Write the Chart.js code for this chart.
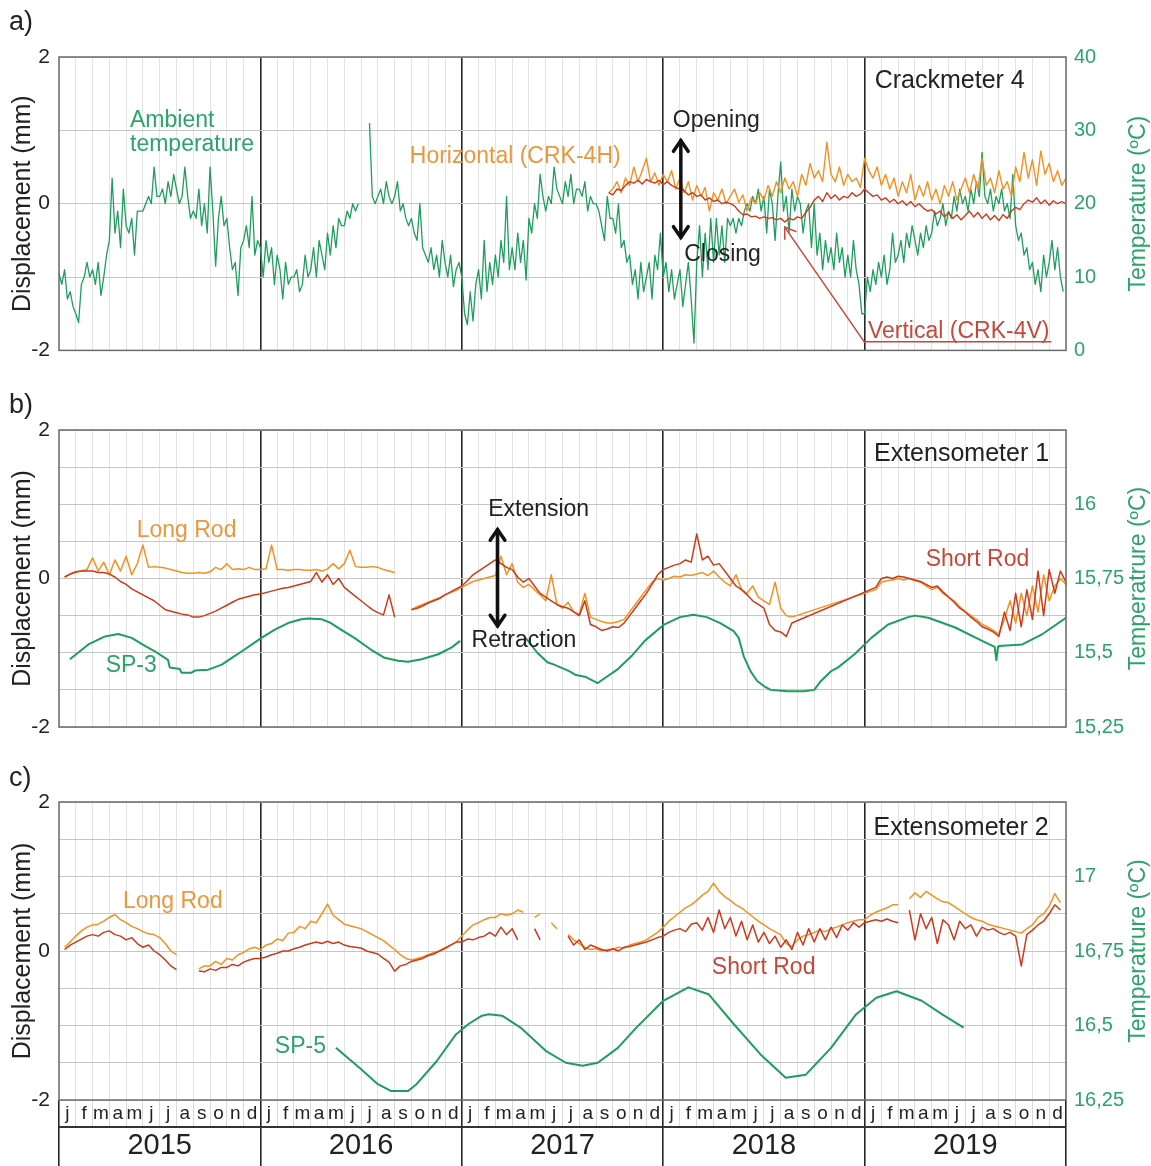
<!DOCTYPE html>
<html lang="en">
<head>
<meta charset="UTF-8">
<title>Crackmeter 4, Extensometer 1 and 2 (2015-2019)</title>
<script src="https://cdn.jsdelivr.net/npm/chart.js@4"></script>
<style>
  body { margin: 0; background: #fff; font-family: 'Liberation Sans', Arial, sans-serif; }
  #page { position: relative; width: 1151px; height: 1166px; overflow: hidden; }
  .panel { position: absolute; left: 0; }
  .tag { position: absolute; left: 9px; font-size: 27px; line-height: 1; color: #222; }
</style>
</head>
<body>
<div id="page">
  <canvas id="chartA" class="panel" style="top:0" width="1151" height="372"></canvas>
  <canvas id="chartB" class="panel" style="top:372px" width="1151" height="378"></canvas>
  <canvas id="chartC" class="panel" style="top:750px" width="1151" height="416"></canvas>
  <div class="tag" style="top:8px">a)</div>
  <div class="tag" style="top:391px">b)</div>
  <div class="tag" style="top:764px">c)</div>
</div>

<script>
// x is counted in months from 1 January 2015 (0) to 31 December 2019 (60)

// tick labels
const monthLetters = ['j', 'f', 'm', 'a', 'm', 'j', 'j', 'a', 's', 'o', 'n', 'd'];
const yearLabels = ['2015', '2016', '2017', '2018', '2019'];

// a) ambient temperature (ºC), six readings per month
const amb2015 = [
  10.5, 9, 11, 7, 8, 6,   5, 3.8, 9, 10, 12, 10,   11, 9, 12, 7.5, 10, 13,
  15, 23.5, 16, 19, 14, 22,   17, 16, 18, 13, 19, 19,   19, 20, 21, 20, 25, 21,
  21, 22, 20, 23, 21, 24,   22, 20, 21, 25, 21, 18,   19, 18, 22, 17, 20, 16,
  25, 19, 11.5, 18, 21, 17,   18, 14, 11, 12, 7.5, 14,   15, 17, 14, 21, 13, 15
];
const amb2016 = [
  14, 10, 15, 12, 14, 9,   13, 11, 7, 12, 9, 10,   10, 11, 8, 9, 13, 10,
  11, 14, 10, 15, 13, 11,   16, 13, 17, 14, 18, 17,   17, 19, 18, 20, 19, 20,
  null, null, null, 31, 21, 20,   21, 22, 20, 23, 21, 20,   21, 23, 19, 20, 18, 17,
  18, 16, 15, 20, 14, 13,   12, 14, 11, 13, 10, 15,   12, 10, 13, 8.7, 11, 12
];
const amb2017 = [
  10, 5, 3.5, 8, 4, 9,   11, 7, 15, 8, 12, 9,   13, 10, 15, 12, 21, 11,
  14, 11, 16, 12, 15, 9.6,   18, 16, 20, 18, 24, 21,   19, 21, 20, 25, 22, 21,
  20, 23, 21, 24, 20, 22,   22, 21, 23, 19, 21, 20,   20, 19, 17, 15, 21, 18,
  18, 16, 20, 14, 15, 12,   13, 9, 11, 7, 12, 8,   10, 12, 7, 13, 11, 16
];
const amb2018 = [
  10, 12, 8, 11, 7, 9,   11, 6, 9, 12, 7, 1,   12, 17, 10, 16, 11, 18,
  12, 18, 13, 17, 12, 18,   17, 18, 16, 18, 17, 19,   20, 19, 21, 20, 22, 19,
  21, 16, 22, 20, 15, 21,   25.7, 19, 21, 16, 22, 19,   21, 20, 16, 19, 20, 14,
  20, 13, 16, 11, 15, 12,   14, 11, 16, 12, 14, 10,   13, 10, 15, 11, 9, 5
];
const amb2019 = [
  5, 10, 8, 11, 9, 12,   10, 13, 9, 11, 16, 12,   13, 15, 12, 16, 14, 17,
  15, 13, 16, 14, 17, 15,   16, 19, 17, 18, 20, 17,   19, 18, 21, 19, 22, 20,
  21, 19, 22, 20, 23, 21,   27, 21, 20, 22, 19, 21,   20, 22, 19, 20, 18, 24,
  17, 15, 16, 13, 14, 11,   12, 9, 11, 8, 13, 10,   12, 15, 11, 14, 10, 8
];

// a) crackmeter displacement (mm), weekly from month 32.75
const crkH = [
  0.15,
  0.2, 0.3, 0.15, 0.35,   0.25, 0.5, 0.3, 0.45,   0.62, 0.3, 0.42, 0.25,
  0.4, 0.3, 0.45, 0.2,   0.35, 0.15, 0.3, 0.05,   0.25, 0.1, 0.22, -0.1,
  0.15, 0.05, 0.2, 0.0,   0.1, 0.2, 0.02, 0.12,   -0.1, 0.08, 0.0, 0.15,
  0.05, 0.25, 0.1, 0.3,   0.15, 0.35, 0.2, 0.3,   0.1, 0.4, 0.25, 0.55,
  0.35, 0.45, 0.3, 0.84,   0.4, 0.3, 0.5, 0.25,   0.4, 0.3, 0.35, 0.22,
  0.62, 0.45, 0.35, 0.5,   0.25, 0.4, 0.2, 0.35,   0.1, 0.3, 0.15, 0.4,
  0.05, 0.25, 0.1, 0.3,   0.05, 0.2, 0.0, 0.25,   0.1, 0.3, 0.05, 0.2,
  0.35, 0.15, 0.4, 0.2,   0.62, 0.25, 0.35, 0.15,   0.45, 0.2, 0.3, 0.1,
  0.5, 0.3, 0.7, 0.35,   0.6, 0.25, 0.72, 0.4,   0.55, 0.3, 0.45, 0.25,
  0.35
];
const crkV = [
  0.15,
  0.12, 0.2, 0.18, 0.25,   0.3, 0.28, 0.32, 0.27,   0.33, 0.3, 0.28, 0.32,
  0.26, 0.3, 0.25, 0.22,   0.2, 0.18, 0.12, 0.15,   0.1, 0.12, 0.05, 0.08,
  0.03, 0.05, 0.0, 0.02,   0.0, -0.03, -0.1, -0.15,   -0.14, -0.18, -0.17, -0.2,
  -0.18, -0.2, -0.19, -0.22,   -0.2, -0.25, -0.2, -0.22,   -0.18, -0.2, -0.12, -0.05,
  0.05, 0.1, 0.03, 0.15,   0.07, 0.12, 0.05, 0.1,   0.08, 0.15, 0.1, 0.13,
  0.2, 0.15, 0.1, 0.12,   0.05, 0.08, 0.02, 0.06,   0.0, 0.04, -0.02, 0.03,
  -0.04, 0.0, -0.06, -0.1,   -0.08, -0.14, -0.1, -0.18,   -0.12, -0.2, -0.15, -0.22,
  -0.16, -0.1, -0.18, -0.12,   -0.2, -0.14, -0.22, -0.16,   -0.23, -0.15, -0.2, -0.1,
  -0.05, -0.08, 0.0, 0.05,   0.02, 0.08, 0.0, 0.05,   -0.02, 0.04, 0.0, 0.03,
  0.0
];

// b) extensometer 1 (mm), three readings per month, Jan 2015 - Aug 2018
const ext1Long1518 = [
  null, 0.02, 0.06,   0.08, 0.1, 0.12,   0.28, 0.1, 0.22,   0.05, 0.25, 0.1,
  0.3, 0.05, 0.2,   0.45, 0.15, 0.16,   0.15, 0.14, 0.12,   0.1, 0.08, 0.07,
  0.07, 0.08, 0.07,   0.09, 0.15, 0.12,   0.2, 0.12, 0.13,   0.12, 0.15, 0.12,
  0.12, 0.13, 0.45,   0.12, 0.12, 0.11,   0.12, 0.12, 0.11,   0.11, 0.12, 0.1,
  0.13, 0.2, 0.13,   0.2, 0.38, 0.16,   0.15, 0.15, 0.16,   0.15, 0.12, 0.1,
  0.08, null, null,   -0.42, -0.38, -0.35,   -0.32, -0.29, -0.26,   -0.22, -0.19, -0.16,
  -0.12, -0.08, -0.04,   -0.02, 0.0, 0.02,   0.04, 0.3, 0.05,   0.2, -0.05, -0.12,
  -0.08, -0.15, -0.22,   -0.3, 0.05, -0.35,   -0.4, -0.32, -0.45,   -0.48, -0.2, -0.52,
  -0.55, -0.58, -0.6,   -0.6, -0.58, -0.55,   -0.45, -0.35, -0.25,   -0.15, -0.05, 0.0,
  -0.02, 0.0, 0.03,   0.02, 0.05, 0.04,   0.06, 0.08, 0.04,   0.1, 0.02, -0.05,
  -0.1, 0.05, -0.15,   -0.2, -0.1, -0.25,   -0.3, -0.35, -0.05,   -0.4, -0.5, -0.52
];
const ext1Short1518 = [
  null, 0.02, 0.06,   0.09, 0.1, 0.1,   0.1, 0.08, 0.08,   0.06, 0.02, -0.04,
  -0.08, -0.14, -0.18,   -0.22, -0.26, -0.3,   -0.36, -0.42, -0.44,   -0.46, -0.48, -0.49,
  -0.52, -0.52, -0.5,   -0.47, -0.44, -0.4,   -0.36, -0.32, -0.28,   -0.26, -0.24, -0.22,
  -0.21, -0.19, -0.17,   -0.15, -0.13, -0.12,   -0.1, -0.08, -0.06,   -0.04, 0.08, -0.05,
  0.05, -0.08, 0.0,   -0.12, -0.18, -0.24,   -0.3, -0.36, -0.42,   -0.46, -0.49, -0.22,
  -0.52, null, null,   -0.42, -0.4, -0.37,   -0.33, -0.3, -0.27,   -0.22, -0.18, -0.14,
  -0.1, -0.03, 0.05,   0.1, 0.15, 0.2,   0.25, 0.2, 0.15,   0.12, 0.02, -0.05,
  0.0, -0.1, -0.2,   -0.25, -0.3, -0.35,   -0.38, -0.4, -0.45,   -0.5, -0.3, -0.62,
  -0.65, -0.7, -0.68,   -0.65, -0.66, -0.6,   -0.5, -0.4, -0.3,   -0.2, -0.08, 0.05,
  0.12, 0.15, 0.18,   0.2, 0.25, 0.22,   0.6, 0.25, 0.3,   0.18, 0.2, 0.1,
  0.0, -0.1, -0.15,   -0.22, -0.3, -0.35,   -0.4, -0.62, -0.7,   -0.72, -0.78, -0.6
];
// b) extensometer 1, from month 48.67 to the end of 2019
const ext1Long19 = [
  -0.15, -0.05, -0.03, -0.02, 0.0, -0.02, 0.0, -0.03, -0.05, -0.1, -0.15, -0.12,
  -0.2, -0.25, -0.3, -0.38, -0.45, -0.5, -0.55, -0.62, -0.65, -0.7, -0.75, -0.55,
  -0.3, -0.6, -0.2, -0.5, -0.1, -0.45, 0.05, -0.3, -0.1, 0.0, -0.08
];
const ext1Short19 = [
  -0.12, 0.0, 0.02, 0.0, 0.03, 0.02, 0.0, -0.02, -0.04, -0.08, -0.12, -0.1,
  -0.18, -0.25, -0.32, -0.4, -0.45, -0.52, -0.58, -0.65, -0.68, -0.72, -0.78, -0.45,
  -0.7, -0.2, -0.65, -0.15, -0.55, 0.1, -0.5, 0.12, -0.2, 0.1, -0.05
];

// b) SP-3 temperature (ºC)
const sp3Months = [
  0.65, 1.75, 2.74, 3.53, 4.33, 5.12, 5.71, 6.31, 6.5, 6.6, 7.2, 7.3, 7.9, 8.1, 8.9,
  9.7, 10.3, 10.9, 11.5, 12.06, 12.86, 13.65, 14.44, 14.84, 15.63, 16.2, 16.8, 17.6,
  18.6, 19.4, 20.2, 20.8, 21.6, 22.6, 23.4, 23.9, 25,
  27.8, 28.5, 29.1, 29.5, 30.4, 30.8, 31.4, 32.1, 32.4, 33.3, 34.1, 34.9, 36.05, 37.0,
  37.8, 38.6, 39.4, 40.2, 40.5, 40.8, 41.2, 41.6, 42.0, 42.4, 43.4, 44.4, 45.0, 45.4,
  46.0, 46.4, 47.4, 48.4, 49.4, 50.6, 51.0, 51.8, 53.4, 55.0, 55.75, 55.85, 55.95,
  56.0, 57.4, 58.6, 60
];
const sp3Temp = [
  15.478, 15.528, 15.555, 15.563, 15.55, 15.523, 15.505, 15.483, 15.475, 15.45, 15.445, 15.433, 15.433, 15.44, 15.443,
  15.46, 15.483, 15.505, 15.528, 15.55, 15.578, 15.6, 15.613, 15.615, 15.613, 15.6, 15.578, 15.55,
  15.51, 15.483, 15.473, 15.47, 15.478, 15.495, 15.518, 15.54, null,
  15.55, 15.5, 15.468, 15.46, 15.438, 15.425, 15.418, 15.398, 15.41, 15.445, 15.488, 15.54, 15.595, 15.62,
  15.628, 15.62, 15.6, 15.573, 15.55, 15.488, 15.438, 15.405, 15.388, 15.375, 15.37, 15.37, 15.375, 15.405,
  15.438, 15.45, 15.495, 15.55, 15.595, 15.62, 15.625, 15.618, 15.585, 15.54, 15.52, 15.475, 15.52,
  15.523, 15.528, 15.563, 15.618
];

// c) extensometer 2 (mm), three readings per month, Jan 2015 - Dec 2019
const ext2Long = [
  null, 0.05, 0.12,   0.2, 0.27, 0.32,   0.35, 0.36, 0.4,   0.45, 0.49, 0.42,
  0.38, 0.33, 0.3,   0.26, 0.23, 0.22,   0.18, 0.1, 0.0,   -0.05, null, null,
  null, -0.24, -0.2,   -0.2, -0.14, -0.18,   -0.1, -0.12, -0.05,   -0.02, 0.03, 0.05,
  0.02, 0.08, 0.1,   0.16, 0.14, 0.24,   0.25, 0.33, 0.3,   0.4, 0.38, 0.5,
  0.63, 0.48, 0.42,   0.36, 0.34, 0.32,   0.3, 0.26, 0.22,   0.18, 0.14, 0.08,
  0.02, -0.05, -0.1,   -0.12, -0.1, -0.08,   -0.05, -0.02, 0.0,   0.03, 0.08, 0.12,
  0.2, 0.28, 0.35,   0.38, 0.42, 0.45,   0.45, 0.5, 0.48,   0.5, 0.55, 0.52,
  null, 0.45, 0.5,   null, 0.38, 0.3,   null, 0.22, 0.15,   0.1, 0.05, 0.02,
  0.03, 0.0, 0.02,   0.02, 0.05, 0.04,   0.08, 0.1, 0.12,   0.15, 0.2, 0.25,
  0.32, 0.4, 0.46,   0.52, 0.58, 0.62,   0.68, 0.75, 0.8,   0.91, 0.8, 0.73,
  0.68, 0.62, 0.58,   0.52, 0.46, 0.4,   0.35, 0.3, 0.26,   0.22, 0.1, 0.06,
  0.15, 0.2, 0.22,   0.25, 0.28, 0.26,   0.3, 0.32, 0.35,   0.38, 0.4, 0.42,
  0.42, 0.48, 0.52,   0.55, 0.58, 0.62,   0.62, null, 0.7,   0.78, 0.72, 0.8,
  0.75, 0.7, 0.66,   0.65, 0.6, 0.55,   0.5, 0.45, 0.42,   0.4, 0.36, 0.34,
  0.32, 0.3, 0.28,   0.26, 0.24, 0.3,   0.35, 0.45, 0.5,   0.6, 0.77, 0.65
];
const ext2Short = [
  null, 0.02, 0.08,   0.12, 0.16, 0.2,   0.22, 0.2, 0.25,   0.27, 0.22, 0.2,
  0.15, 0.18, 0.1,   0.05, 0.08, 0.0,   -0.05, -0.12, -0.2,   -0.25, null, null,
  null, -0.27, -0.28,   -0.24, -0.26, -0.22,   -0.22, -0.18, -0.2,   -0.15, -0.12, -0.1,
  -0.1, -0.08, -0.05,   -0.03, 0.0, 0.0,   0.03, 0.05, 0.08,   0.1, 0.12, 0.1,
  0.13, 0.1, 0.12,   0.08, 0.06, 0.05,   0.04, 0.0, -0.02,   -0.04, -0.1, -0.15,
  -0.27, -0.2, -0.18,   -0.14, -0.12, -0.1,   -0.06, -0.04, 0.0,   0.04, 0.08, 0.12,
  0.12, 0.16, 0.15,   0.18, 0.2, 0.25,   0.2, 0.32, 0.22,   0.3, 0.15, null,
  null, 0.3, 0.15,   null, null, null,   null, 0.2, 0.08,   0.15, 0.02, 0.08,
  0.05, 0.02, 0.0,   0.03, 0.0, 0.05,   0.06, 0.08, 0.1,   0.12, 0.15, 0.18,
  0.2, 0.25, 0.28,   0.3, 0.26, 0.36,   0.38, 0.28, 0.45,   0.25, 0.55, 0.3,
  0.45, 0.2, 0.4,   0.15, 0.35, 0.12,   0.25, 0.1, 0.2,   0.05, 0.15, 0.02,
  0.25, 0.08, 0.3,   0.12, 0.3, 0.15,   0.32, 0.18, 0.35,   0.28, 0.38, 0.32,
  0.38, 0.4, 0.42,   0.4, 0.43, 0.4,   0.38, null, 0.55,   0.15, 0.5, 0.3,
  0.45, 0.1, 0.42,   0.35, 0.15, 0.4,   0.3, 0.35, 0.2,   0.32, 0.28, 0.3,
  0.25, 0.22, 0.25,   0.2, -0.2, 0.22,   0.28, 0.35, 0.4,   0.5, 0.62, 0.55
];

// c) SP-5 temperature (ºC)
const sp5Months = [
  16.5, 17.9, 19.0, 19.8, 20.8, 21.3, 22.5, 23.65, 24.4, 25.2, 25.6, 26.4, 27.5, 29.0,
  30.2, 31.2, 32.1, 33.3, 34.4, 36.0, 37.5, 38.7, 40.2, 41.8, 43.3, 44.5, 46.0, 47.5,
  48.7, 49.9, 51.4, 52.6, 53.9
];
const sp5Temp = [
  16.425, 16.358, 16.303, 16.28, 16.28, 16.303, 16.38, 16.47, 16.505, 16.533, 16.538, 16.533, 16.493, 16.415,
  16.375, 16.365, 16.375, 16.425, 16.493, 16.583, 16.628, 16.605, 16.505, 16.403, 16.325, 16.335, 16.425, 16.538,
  16.593, 16.615, 16.583, 16.538, 16.493
];

const FONT = "'Liberation Sans', Arial, Helvetica, sans-serif";
const INK = '#222222';
const GREEN = '#1f9d5e';
const GREEN_TXT = '#2ca36c';
const ORANGE = '#f39120';
const ORANGE_TXT = '#e8983e';
const RED = '#cc3a1c';
const RED_TXT = '#c4493a';

function series(start, step, values) {
  return values.map((v, i) => ({ x: start + i * step, y: v }));
}
function pairs(months, values) {
  return months.map((m, i) => ({ x: m, y: values[i] }));
}
function isYearLine(v) {
  return v > 0 && v < 60 && v % 12 === 0;
}

function drawArrow(ctx, x1, y1, x2, y2, a) {
  ctx.strokeStyle = a.color;
  ctx.lineWidth = a.width;
  ctx.lineCap = 'round';
  ctx.beginPath();
  ctx.moveTo(x1, y1);
  ctx.lineTo(x2, y2);
  ctx.stroke();
  const ang = Math.atan2(y2 - y1, x2 - x1);
  const heads = a.both ? [[x2, y2, ang], [x1, y1, ang + Math.PI]] : [[x2, y2, ang]];
  heads.forEach(([hx, hy, an]) => {
    ctx.beginPath();
    ctx.moveTo(hx - a.head * Math.cos(an - 0.6), hy - a.head * Math.sin(an - 0.6));
    ctx.lineTo(hx, hy);
    ctx.lineTo(hx - a.head * Math.cos(an + 0.6), hy - a.head * Math.sin(an + 0.6));
    ctx.stroke();
  });
}

// frame, in-plot labels, arrows and the right-hand axis title
const notesPlugin = {
  id: 'notes',
  afterDatasetsDraw(chart, args, opts) {
    const ctx = chart.ctx;
    const area = chart.chartArea;
    const px = m => chart.scales.x.getPixelForValue(m);
    const py = v => chart.scales.y.getPixelForValue(v);
    ctx.save();
    ctx.strokeStyle = '#6b6b6b';
    ctx.lineWidth = 1.5;
    ctx.strokeRect(area.left, area.top, area.right - area.left, area.bottom - area.top);

    ctx.textBaseline = 'middle';
    ctx.textAlign = 'left';
    (opts.texts || []).forEach(t => {
      ctx.font = t.size + 'px ' + FONT;
      ctx.fillStyle = t.color;
      ctx.fillText(t.text, px(t.m), py(t.v));
      if (t.underline) {
        const w = ctx.measureText(t.text).width;
        const uy = py(t.v) + t.size * 0.42;
        ctx.strokeStyle = t.color;
        ctx.lineWidth = 1.5;
        ctx.beginPath();
        ctx.moveTo(px(t.m) - 3, uy);
        ctx.lineTo(px(t.m) + w + 2, uy);
        ctx.stroke();
      }
    });
    (opts.arrows || []).forEach(a => {
      drawArrow(ctx, px(a.from[0]), py(a.from[1]), px(a.to[0]), py(a.to[1]), a);
    });

    if (opts.sideTitle) {
      ctx.translate(chart.width - 12, (area.top + area.bottom) / 2);
      ctx.rotate(-Math.PI / 2);
      ctx.textAlign = 'center';
      ctx.font = '23px ' + FONT;
      ctx.fillStyle = GREEN_TXT;
      ctx.fillText(opts.sideTitle, 0, 0);
    }
    ctx.restore();
  }
};

function makeScales(r) {
  return {
    x: {
      type: 'linear', min: 0, max: 60, weight: 0,
      afterBuildTicks: s => { s.ticks = Array.from({ length: 61 }, (_, i) => ({ value: i })); },
      ticks: { display: false },
      grid: {
        drawTicks: false,
        color: c => isYearLine(c.tick.value) ? '#262626' : '#e3e3e3',
        lineWidth: c => isYearLine(c.tick.value) ? 1.6 : 1
      },
      border: { display: false },
      afterFit: s => { s.height = 0; }
    },
    y: {
      min: -2, max: 2,
      ticks: {
        stepSize: r.gridStep,
        callback: v => (v % 2 === 0 ? String(v) : ''),
        font: { family: FONT, size: 21 }, color: INK, padding: 9
      },
      grid: { drawTicks: false, color: '#c6c6c6' },
      border: { display: false },
      title: {
        display: true, text: 'Displacement (mm)',
        font: { family: FONT, size: 25 }, color: INK, padding: { top: 8, bottom: 0 }
      },
      afterFit: s => { s.width = 59; }
    },
    y2: {
      position: 'right', min: r.min, max: r.max,
      ticks: {
        stepSize: r.step, callback: r.fmt,
        font: { family: FONT, size: 20 }, color: GREEN_TXT, padding: 8
      },
      grid: { display: false, drawTicks: false },
      border: { display: false },
      afterFit: s => { s.width = 85; }
    }
  };
}

function makeChart(id, padding, datasets, scales, notes) {
  return new Chart(document.getElementById(id), {
    type: 'line',
    data: { datasets: datasets },
    options: {
      responsive: false,
      animation: false,
      events: [],
      layout: { padding: padding },
      elements: {
        point: { radius: 0 },
        line: { tension: 0, borderJoinStyle: 'round' }
      },
      plugins: { legend: { display: false }, tooltip: { enabled: false }, notes: notes },
      scales: scales
    },
    plugins: [notesPlugin]
  });
}

function comma(limit) {
  return v => (v > limit ? '' : String(v).replace('.', ','));
}

// ---------- a) Crackmeter 4 ----------
makeChart('chartA', { top: 57, bottom: 17, left: 0, right: 0 }, [
  { label: 'Vertical (CRK-4V)', data: series(32.75, 0.25, crkV), borderColor: RED, borderWidth: 1.4, order: 1 },
  { label: 'Horizontal (CRK-4H)', data: series(32.75, 0.25, crkH), borderColor: ORANGE, borderWidth: 1.4, order: 2 },
  { label: 'Ambient temperature', yAxisID: 'y2',
    data: series(0, 1 / 6, [...amb2015, ...amb2016, ...amb2017, ...amb2018, ...amb2019]),
    borderColor: GREEN, borderWidth: 1.3, order: 3 }
], makeScales({ gridStep: 1, min: 0, max: 40, step: 10, fmt: v => String(v) }), {
  sideTitle: 'Temperature (ºC)',
  texts: [
    { text: 'Ambient', m: 4.23, v: 1.13, color: GREEN_TXT, size: 23 },
    { text: 'temperature', m: 4.23, v: 0.8, color: GREEN_TXT, size: 23 },
    { text: 'Horizontal (CRK-4H)', m: 20.9, v: 0.64, color: ORANGE_TXT, size: 23 },
    { text: 'Opening', m: 36.57, v: 1.13, color: INK, size: 23 },
    { text: 'Closing', m: 37.25, v: -0.7, color: INK, size: 23 },
    { text: 'Crackmeter 4', m: 48.6, v: 1.67, color: INK, size: 25 },
    { text: 'Vertical (CRK-4V)', m: 48.2, v: -1.75, color: RED_TXT, size: 23, underline: true }
  ],
  arrows: [
    { from: [37.05, -0.46], to: [37.05, 0.86], both: true, color: '#111', width: 3.5, head: 13 },
    { from: [48.0, -1.89], to: [43.24, -0.32], color: RED_TXT, width: 1.5, head: 12 }
  ]
});

// ---------- b) Extensometer 1 ----------
makeChart('chartB', { top: 58, bottom: 23, left: 0, right: 0 }, [
  { label: 'Short Rod', data: [...series(0, 1 / 3, ext1Short1518), ...series(48 + 2 / 3, 1 / 3, ext1Short19)],
    borderColor: RED, borderWidth: 1.5, order: 1 },
  { label: 'Long Rod', data: [...series(0, 1 / 3, ext1Long1518), ...series(48 + 2 / 3, 1 / 3, ext1Long19)],
    borderColor: ORANGE, borderWidth: 1.5, order: 2 },
  { label: 'SP-3', yAxisID: 'y2', data: pairs(sp3Months, sp3Temp), borderColor: GREEN, borderWidth: 2, order: 3 }
], makeScales({ gridStep: 0.5, min: 15.25, max: 16.25, step: 0.25, fmt: comma(16.1) }), {
  sideTitle: 'Temperatrure (ºC)',
  texts: [
    { text: 'Long Rod', m: 4.63, v: 0.64, color: ORANGE_TXT, size: 23 },
    { text: 'SP-3', m: 2.78, v: -1.18, color: GREEN_TXT, size: 23 },
    { text: 'Extension', m: 25.57, v: 0.93, color: INK, size: 23 },
    { text: 'Retraction', m: 24.58, v: -0.84, color: INK, size: 23 },
    { text: 'Extensometer 1', m: 48.56, v: 1.67, color: INK, size: 25 },
    { text: 'Short Rod', m: 51.64, v: 0.26, color: RED_TXT, size: 23 }
  ],
  arrows: [
    { from: [26.13, -0.64], to: [26.13, 0.66], both: true, color: '#111', width: 3.5, head: 13 }
  ]
});

// ---------- c) Extensometer 2, with month and year rows ----------
const scalesC = makeScales({ gridStep: 0.5, min: 16.25, max: 17.25, step: 0.25, fmt: comma(17.1) });
scalesC.xm = {
  type: 'linear', position: 'bottom', min: 0, max: 60, weight: 1,
  afterBuildTicks: s => { s.ticks = Array.from({ length: 60 }, (_, i) => ({ value: i + 0.5 })); },
  ticks: {
    autoSkip: false, maxRotation: 0, minRotation: 0, padding: -25,
    callback: v => monthLetters[Math.floor(v) % 12],
    font: { family: FONT, size: 19 }, color: INK
  },
  grid: {
    drawOnChartArea: false, offset: true, tickLength: 27,
    color: c => ((c.index === undefined ? 60 : c.index) % 12 === 0 ? '#262626' : '#d9d9d9'),
    lineWidth: c => ((c.index === undefined ? 60 : c.index) % 12 === 0 ? 1.6 : 1)
  },
  border: { display: false },
  afterFit: s => { s.height = 27; }
};
scalesC.xy = {
  type: 'linear', position: 'bottom', min: 0, max: 60, weight: 2,
  afterBuildTicks: s => { s.ticks = yearLabels.map((_, i) => ({ value: i * 12 + 6 })); },
  ticks: {
    autoSkip: false, maxRotation: 0, minRotation: 0, padding: -37,
    callback: (v, i) => yearLabels[i],
    font: { family: FONT, size: 29 }, color: INK
  },
  grid: { drawOnChartArea: false, offset: true, tickLength: 39, color: '#262626', lineWidth: 1.6 },
  border: { display: true, color: '#333', width: 2 },
  afterFit: s => { s.height = 39; }
};

makeChart('chartC', { top: 52, bottom: 0, left: 0, right: 0 }, [
  { label: 'Short Rod', data: series(0, 1 / 3, ext2Short), borderColor: RED, borderWidth: 1.5, order: 1 },
  { label: 'Long Rod', data: series(0, 1 / 3, ext2Long), borderColor: ORANGE, borderWidth: 1.5, order: 2 },
  { label: 'SP-5', yAxisID: 'y2', data: pairs(sp5Months, sp5Temp), borderColor: GREEN, borderWidth: 2, order: 3 }
], scalesC, {
  sideTitle: 'Temperatrure (ºC)',
  texts: [
    { text: 'Long Rod', m: 3.81, v: 0.66, color: ORANGE_TXT, size: 23 },
    { text: 'SP-5', m: 12.86, v: -1.28, color: GREEN_TXT, size: 23 },
    { text: 'Short Rod', m: 38.9, v: -0.23, color: RED_TXT, size: 23 },
    { text: 'Extensometer 2', m: 48.53, v: 1.65, color: INK, size: 25 }
  ]
});
</script>
</body>
</html>
